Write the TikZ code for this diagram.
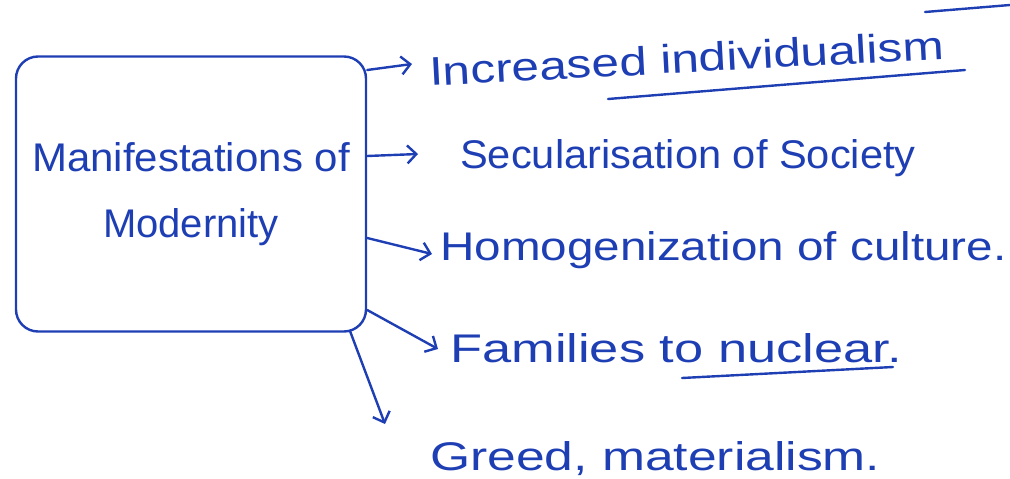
\documentclass[tikz,border=0pt]{standalone}
\usepackage{graphicx}
\usepackage{fontspec}
\setmainfont{Liberation Sans}
\usetikzlibrary{arrows.meta}
\definecolor{ink}{RGB}{30,62,180}
\begin{document}
\begin{tikzpicture}[x=1pt,y=-1pt,
  inkline/.style={draw=ink, line width=2.4pt, line cap=round, line join=round},
  arr/.style={inkline, -{Straight Barb[length=9pt,width=18pt,line width=2.4pt]}},
  lbl/.style={text=ink, font=\fontsize{40}{44}\selectfont, anchor=base west, inner sep=0pt},
  boxst/.style={inkline, rounded corners=22pt, minimum width=350pt, minimum height=275pt,
    align=center, text=ink, font=\fontsize{40}{70}\selectfont}]
\useasboundingbox (0,0) rectangle (1010,479);
\node[boxst] (box) at (191,194) {\scalebox{1.05}[1]{Manifestations of}\\[-4pt]Modernity};
\node[lbl, rotate=3] (t1) at (430,86) {\scalebox{1.24}[1]{Increased individualism}};
\node[lbl] (t2) at (460,168) {\scalebox{1.04}[1]{Secularisation of Society}};
\node[lbl] (t3) at (440,260) {\scalebox{1.19}[1]{Homogenization of culture.}};
\node[lbl] (t4) at (450,362) {\scalebox{1.31}[1]{Families to nuclear.}};
\node[lbl] (t5) at (430,470) {\scalebox{1.29}[1]{Greed, materialism.}};
\coordinate (s1) at (box.east |- 0,70);
\coordinate (s2) at (box.east |- 0,156);
\coordinate (s3) at (box.east |- 0,238);
\coordinate (s4) at (box.east |- 0,310);
\coordinate (s5) at (350,331);
\coordinate (e1) at (412,64);
\coordinate (e2) at (418,154);
\coordinate (e3) at (432,254);
\coordinate (e4) at (438,349);
\coordinate (e5) at (385,424);
\draw[arr] (s1) -- (e1);
\draw[arr] (s2) -- (e2);
\draw[arr] (s3) -- (e3);
\draw[arr] (s4) -- (e4);
\draw[arr] (s5) -- (e5);
\coordinate (u1a) at (608,99);
\coordinate (u1b) at (965,70);
\coordinate (u2a) at (925,12);
\coordinate (u2b) at (1010,5);
\coordinate (u3a) at (682,378);
\coordinate (u3b) at (893,367);
\draw[inkline] (u1a) -- (u1b);
\draw[inkline] (u2a) -- (u2b);
\draw[inkline] (u3a) -- (u3b);
\end{tikzpicture}
\end{document}
